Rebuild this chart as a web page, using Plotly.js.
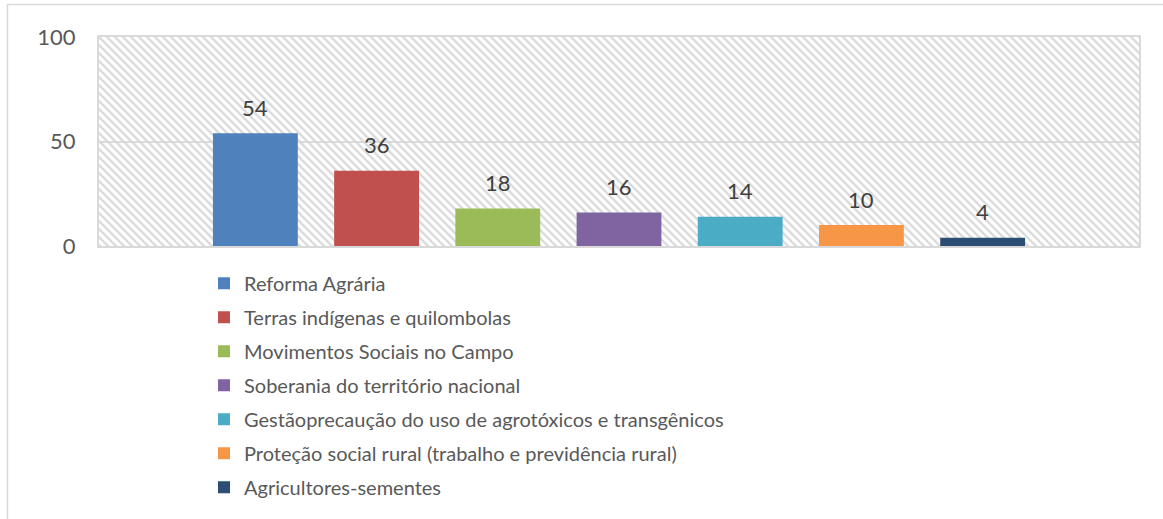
<!DOCTYPE html>
<html>
<head>
<meta charset="utf-8">
<script src="https://cdn.plot.ly/plotly-3.0.1.min.js"></script>
<style>html,body{margin:0;padding:0;background:#fff;}#chart{width:1163px;height:519px;}</style>
</head>
<body>
<div id="chart"></div>
<script>
const categories = ["Reforma Agrária", "Terras indígenas e quilombolas", "Movimentos Sociais no Campo", "Soberania do território nacional", "Gestãoprecaução do uso de agrotóxicos e transgênicos", "Proteção social rural (trabalho e previdência rural)", "Agricultores-sementes"];
const values = [54, 36, 18, 16, 14, 10, 4];
const colors = ["#4f81bd", "#c0504d", "#9bbb59", "#8064a2", "#4bacc6", "#f79646", "#2c4d75"];
const yTicks = [0, 50, 100];

const FONT = 'Lato, Roboto, sans-serif';

const traces = categories.map((name, i) => ({
  type: 'bar',
  name: name,
  x: [i],
  y: [values[i]],
  width: 0.7,
  marker: {color: colors[i]},
  hoverinfo: 'skip',
  legendgroup: 'g' + i
}));

const annotations = categories.map((name, i) => ({
  x: i, y: values[i], xref: 'x', yref: 'y',
  text: String(values[i]), showarrow: false,
  yanchor: 'middle', yshift: 26,
  font: {family: FONT, size: 22, color: '#404040'}
}));

const svg = '<svg xmlns="http://www.w3.org/2000/svg" width="1040" height="209">' +
  '<defs><pattern id="p" patternUnits="userSpaceOnUse" width="8" height="8">' +
  '<path d="M-2,-2 L10,10 M-2,6 L2,10 M6,-2 L10,2" stroke="#dcdcdc" stroke-width="2.6" fill="none"/>' +
  '</pattern></defs><rect width="1040" height="209" fill="#ffffff"/><rect width="1040" height="209" fill="url(#p)"/></svg>';
const hatch = 'data:image/svg+xml;charset=utf-8,' + encodeURIComponent(svg);

const layout = {
  width: 1163, height: 519,
  margin: {l: 99, r: 24, t: 37, b: 273},
  paper_bgcolor: '#ffffff',
  plot_bgcolor: '#ffffff',
  barmode: 'overlay',
  showlegend: true,
  font: {family: FONT, color: '#595959'},
  xaxis: {
    range: [-1.29, 7.29], showticklabels: false, showgrid: false, zeroline: false,
    showline: true, mirror: true, linecolor: '#d9d9d9', linewidth: 2, fixedrange: true
  },
  yaxis: {
    range: [0, 100], tickvals: yTicks, ticktext: yTicks.map(String),
    showgrid: true, gridcolor: '#d9d9d9', gridwidth: 2, zeroline: false,
    showline: true, mirror: true, linecolor: '#d9d9d9', linewidth: 2,
    ticks: '', ticklabelstandoff: 17,
    tickfont: {family: FONT, size: 22, color: '#595959'}, fixedrange: true
  },
  legend: {
    x: (204 - 99) / 1040, xanchor: 'left', xref: 'paper',
    y: -0.085, yanchor: 'top',
    orientation: 'v', traceorder: 'grouped', tracegroupgap: 5,
    font: {family: FONT, size: 20, color: '#595959'},
    bgcolor: 'rgba(0,0,0,0)'
  },
  annotations: annotations,
  images: [{
    source: hatch, xref: 'paper', yref: 'paper', x: 0, y: 1, sizex: 1, sizey: 1,
    xanchor: 'left', yanchor: 'top', sizing: 'stretch', layer: 'below'
  }],
  shapes: [{
    type: 'rect', xref: 'paper', yref: 'paper',
    x0: (7.5 - 99) / 1040, x1: (1175 - 99) / 1040,
    y0: (246 - 530) / 209, y1: (246 - 4.5) / 209,
    line: {color: '#d9d9d9', width: 1.5}, fillcolor: 'rgba(0,0,0,0)', layer: 'below'
  }]
};

Plotly.newPlot('chart', traces, layout, {displayModeBar: false, staticPlot: true});
</script>
</body>
</html>
